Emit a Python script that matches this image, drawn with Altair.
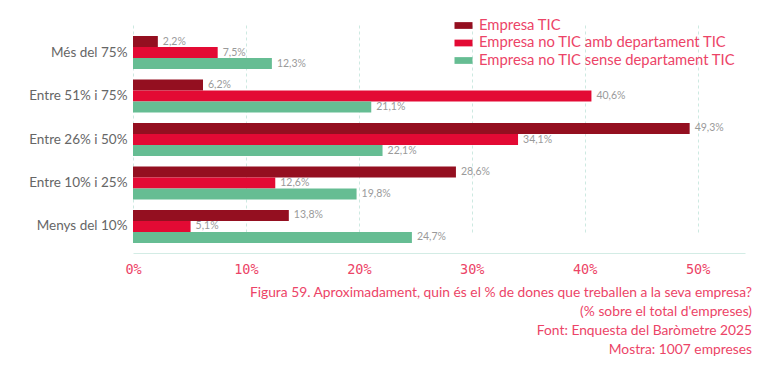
import altair as alt
import pandas as pd

categories = ["Més del 75%", "Entre 51% i 75%", "Entre 26% i 50%", "Entre 10% i 25%", "Menys del 10%"]
series = ["Empresa TIC", "Empresa no TIC amb departament TIC", "Empresa no TIC sense departament TIC"]
empresa_tic = [2.2, 6.2, 49.3, 28.6, 13.8]
no_tic_amb = [7.5, 40.6, 34.1, 12.6, 5.1]
no_tic_sense = [12.3, 21.1, 22.1, 19.8, 24.7]
colors = ["#940f20", "#e30a34", "#66bd93"]
caption = [
    "Figura 59. Aproximadament, quin és el % de dones que treballen a la seva empresa?",
    "(% sobre el total d'empreses)",
    "Font: Enquesta del Baròmetre 2025",
    "Mostra: 1007 empreses",
]

rows = []
for s, vals in zip(series, [empresa_tic, no_tic_amb, no_tic_sense]):
    for c, v in zip(categories, vals):
        rows.append({"cat": c, "serie": s, "val": v, "label": f"{v:.1f}".replace(".", ",") + "%"})
df = pd.DataFrame(rows)

pink = "#ec4467"

y = alt.Y("cat:N", sort=categories, title=None,
          scale=alt.Scale(range=[21, 228], paddingInner=0.24, paddingOuter=0),
          axis=alt.Axis(ticks=False, domain=False, labelFontSize=13.5, labelColor="#666666",
                        labelFont="Lato", labelPadding=6))
yoff = alt.YOffset("serie:N", sort=series, scale=alt.Scale(paddingInner=0, paddingOuter=0))
x = alt.X("val:Q", title=None,
          scale=alt.Scale(domain=[0, 54.2], nice=False, zero=True),
          axis=alt.Axis(values=[0, 10, 20, 30, 40, 50], labelExpr="datum.value + '%'",
                        ticks=False, domain=True, domainColor="#d3ece5",
                        grid=True, gridColor="#cde9e1", gridDash=[3, 3],
                        labelFont="DejaVu Sans Mono", labelFontSize=13.5, labelColor=pink,
                        labelPadding=9, labelFlush=False))

bars = alt.Chart(df).mark_bar().encode(
    x=x, y=y, yOffset=yoff,
    color=alt.Color("serie:N", sort=series, title=None,
                    scale=alt.Scale(domain=series, range=colors),
                    legend=alt.Legend(orient="none", legendX=323, legendY=3,
                                      symbolType="M-1.2,-0.45H1.2V0.45H-1.2Z", symbolSize=225,
                                      labelFont="Lato", labelFontSize=14.8, labelColor=pink,
                                      labelLimit=0, rowPadding=1.5, symbolStrokeWidth=0,
                                      labelOffset=8)),
)

texts = alt.Chart(df).mark_text(align="left", baseline="middle", dx=5, fontSize=10.5,
                                color="#9a9a9a", font="Lato").encode(
    x="val:Q", y=alt.Y("cat:N", sort=categories), yOffset=alt.YOffset("serie:N", sort=series),
    text="label:N",
)

chart = alt.layer(bars, texts).properties(
    width=612, height=238,
    padding={"left": 125, "top": 7, "right": 20, "bottom": 105},
    autosize=alt.AutoSizeParams(type="none"),
    title=alt.TitleParams(caption, orient="bottom", anchor="end", fontSize=13.8, color=pink,
                          font="Lato", fontWeight="normal", lineHeight=19, offset=10, dx=7),
).configure_view(stroke=None)

chart.save("out.html", embed_options={"renderer": "svg", "actions": False})
